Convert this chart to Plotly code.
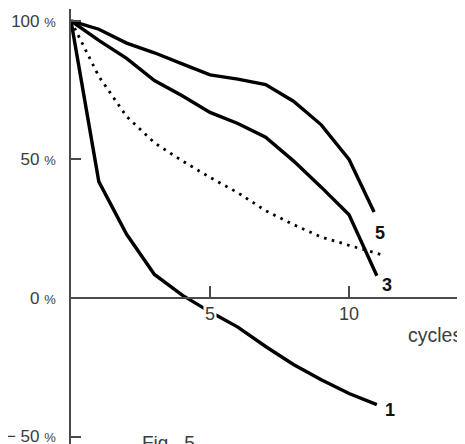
import plotly.graph_objects as go

# readings taken from the figure (percent of initial value vs. cycles)
cycles = [0, 1, 2, 3, 4, 5, 6, 7, 8, 9, 10, 11]
curve_1 = [100, 42, 23, 8.5, 1, -5, -10.5, -17.5, -24, -29.5, -34.5, -38.5]
curve_3 = [100, 93, 86.5, 78.5, 73, 67, 63, 58, 49.5, 40, 30, 8]
cycles_5 = [0, 1, 2, 3, 4, 5, 6, 7, 8, 9, 10, 10.9]
curve_5 = [100, 97, 92, 88.5, 84.5, 80.5, 79, 77, 71, 62.5, 50, 31]
cycles_dot = [0, 1, 2, 3, 4, 5, 6, 7, 8, 9, 10, 11.2]
curve_dot = [100, 80, 65.5, 56, 49.5, 43.5, 38, 31.5, 26.5, 22, 19, 15.5]

y_ticks = [100, 50, 0, -50]
y_ticktext = ["100 %", "50 %", "0 %", "\u2212 50 %"]
x_ticks = [5, 10]
x_ticktext = ["5", "10"]

# curve name, position of its label
curve_labels = ["5", "3", "1"]
label_x = [11.12, 11.37, 11.47]
label_y = [23.5, 4.7, -40.4]

FONT = "Liberation Sans, Arial, sans-serif"
TXT = "#3c3c3c"
AX = "#4a4a4a"

x_range = [0, 14.17]
y_range = [-52.7, 104.3]
zero_pos = (0 - y_range[0]) / (y_range[1] - y_range[0])

fig = go.Figure()
line = dict(color="black", width=3.4)
fig.add_trace(go.Scatter(x=cycles, y=curve_1, mode="lines", line=line))
fig.add_trace(go.Scatter(x=cycles, y=curve_3, mode="lines", line=line))
fig.add_trace(go.Scatter(x=cycles_5, y=curve_5, mode="lines", line=line))
fig.add_trace(go.Scatter(x=cycles_dot, y=curve_dot, mode="lines",
                         line=dict(color="black", width=2.8, dash="2.6px,5.4px")))

def pct(t):
    # percent sign is set smaller than the digits
    return t.replace("%", "<span style='font-size:13px'>%</span>")

annotations = []
for v, t in zip(x_ticks, x_ticktext):
    annotations.append(dict(x=v, y=0, xref="x", yref="y", text=t, showarrow=False,
                            yshift=-16, bgcolor="white", borderpad=1,
                            font=dict(family=FONT, size=18, color=TXT)))
for t, x, y in zip(curve_labels, label_x, label_y):
    annotations.append(dict(x=x, y=y, xref="x", yref="y", text="<b>" + t + "</b>",
                            showarrow=False, font=dict(family=FONT, size=18, color="#111")))
annotations.append(dict(x=12.05, y=-13.5, xref="x", yref="y", text="cycles", showarrow=False,
                        xanchor="left", font=dict(family=FONT, size=19.5, color=TXT)))
annotations.append(dict(x=0.176, y=0.032, xref="paper", yref="paper", text="Fig.  5",
                        showarrow=False, xanchor="left", yanchor="top",
                        font=dict(family=FONT, size=19, color=TXT)))

# the page body adds 8px around the figure, so margins are offset by that
fig.update_layout(
    width=457, height=436,
    margin=dict(l=63, r=0, t=1, b=0, autoexpand=False),
    plot_bgcolor="white", paper_bgcolor="white",
    showlegend=False,
    annotations=annotations,
    xaxis=dict(range=x_range, anchor="free", position=zero_pos,
               showline=True, linecolor=AX, linewidth=1.6,
               tickvals=x_ticks, ticks="inside", ticklen=11, tickwidth=1.6, tickcolor=AX,
               showticklabels=False, showgrid=False, zeroline=False),
    yaxis=dict(range=y_range, showline=True, linecolor=AX, linewidth=1.6,
               tickvals=y_ticks, ticktext=[pct(t) for t in y_ticktext],
               ticks="inside", ticklen=10, tickwidth=1.6, tickcolor=AX,
               tickfont=dict(family=FONT, size=17, color=TXT),
               ticklabelstandoff=10, ticklabeloverflow="allow",
               showgrid=False, zeroline=False),
)

fig.write_html("out.html")
